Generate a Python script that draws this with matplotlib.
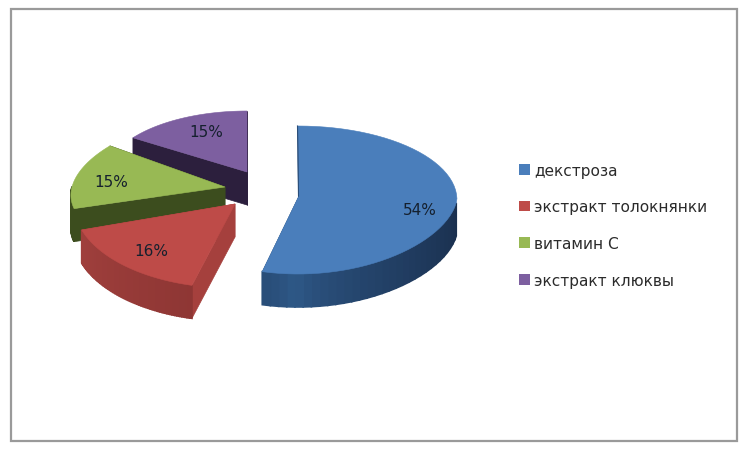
import numpy as np
import matplotlib
matplotlib.use("Agg")
import matplotlib.pyplot as plt
from matplotlib.colors import to_rgb
from matplotlib.patches import Polygon, Rectangle

names = ["декстроза", "экстракт толокнянки", "витамин С", "экстракт клюквы"]
shares = [54, 16, 15, 15]

# exploded slices: apex, ellipse centre and radii, in pixels of the picture
apex_xy = [(299, 197), (235, 205), (225, 188), (247, 173)]
center_xy = [(298, 201), (231, 205), (225, 188), (247, 177)]
radii = [(159, 74), (157, 84), (153, 70), (141, 65)]
# the old 3d chart has some perspective
taper_back = [0, 0, 0.12, 0]
taper_front = [-0.1, 0, 0.12, 0]
label_nudge = [(3, 2), (2, 0), (-1, 3), (8, 0)]

top_colors = ["#4a7ebb", "#be4b48", "#98b954", "#7d5fa0"]
side_colors = ["#2a4d78", "#a5403d", "#3c4d1e", "#2c1f3d"]
arc_from = ["#2f5a8a", "#a5423f", "#3c4d1e", "#2c1f3d"]
arc_to = ["#1a2f4e", "#8a3432", "#3c4d1e", "#2c1f3d"]
depth = 33

fig = plt.figure(figsize=(7.5, 4.56), dpi=100)
ax = fig.add_axes([0, 0, 1, 1])
ax.set_xlim(0, 750)
ax.set_ylim(456, 0)
ax.axis("off")

ax.add_patch(Rectangle((11, 9.5), 726, 432.5, fill=False, edgecolor="#9a9a9a", linewidth=1.6))

angles = 3.6 * np.cumsum([0] + shares)


def rim(i, deg):
    a = np.radians(deg)
    scale = 1 - np.where(np.cos(a) > 0, taper_back[i], taper_front[i]) * np.cos(a)
    return np.column_stack([center_xy[i][0] + radii[i][0] * np.sin(a) * scale,
                            center_xy[i][1] - radii[i][1] * np.cos(a)])


# back slices first so that the front ones cover them
for i in [3, 2, 1, 0]:
    deg = np.linspace(angles[i], angles[i + 1], 60)
    edge = rim(i, deg)
    apex = np.array(apex_xy[i], dtype=float)
    z = 2 + 3 - i

    # straight cut faces
    for p in (edge[0], edge[-1]):
        quad = np.array([apex, p, p + [0, depth], apex + [0, depth]])
        ax.add_patch(Polygon(quad, facecolor=side_colors[i], edgecolor=side_colors[i], linewidth=0.5, zorder=z))

    # outer wall, only the part turned to the viewer
    c0, c1 = np.array(to_rgb(arc_from[i])), np.array(to_rgb(arc_to[i]))
    for k in range(len(deg) - 1):
        if np.cos(np.radians(deg[k])) > 0:
            continue
        t = min(abs(deg[k] - 180) / 90, 1)
        col = c0 + (c1 - c0) * t ** 0.6 if i == 0 else c1 + (c0 - c1) * t
        quad = np.array([edge[k], edge[k + 1], edge[k + 1] + [0, depth], edge[k] + [0, depth]])
        ax.add_patch(Polygon(quad, facecolor=col, edgecolor=col, linewidth=1.2, zorder=z))

    ax.add_patch(Polygon(np.vstack([apex, edge]), facecolor=top_colors[i], edgecolor=top_colors[i], linewidth=0.4,
                         zorder=z + 0.5))
    if i == 0:
        ax.plot([edge[0][0] - 0.5, apex[0] - 0.5], [edge[0][1], apex[1]], color=side_colors[0], linewidth=0.8, zorder=z + 0.6)

    mid = rim(i, (angles[i] + angles[i + 1]) / 2)[0]
    pos = center_xy[i] + 0.76 * (mid - center_xy[i]) + label_nudge[i]
    ax.text(pos[0], pos[1], f"{shares[i]}%", fontsize=11, color="#15202e", ha="center", va="center", zorder=10)

handles = [Rectangle((0, 0), 1, 1, facecolor=c, edgecolor="none") for c in top_colors]
ax.legend(handles, names, loc="upper left", bbox_to_anchor=(511 / 750, 1 - 156 / 456), frameon=False,
          fontsize=11.1, handlelength=0.7, handleheight=0.7, handletextpad=0.3, labelspacing=1.41,
          labelcolor="#2b2b2b", borderpad=0.5, borderaxespad=0)

plt.savefig("out.png", dpi=100, facecolor="white")
